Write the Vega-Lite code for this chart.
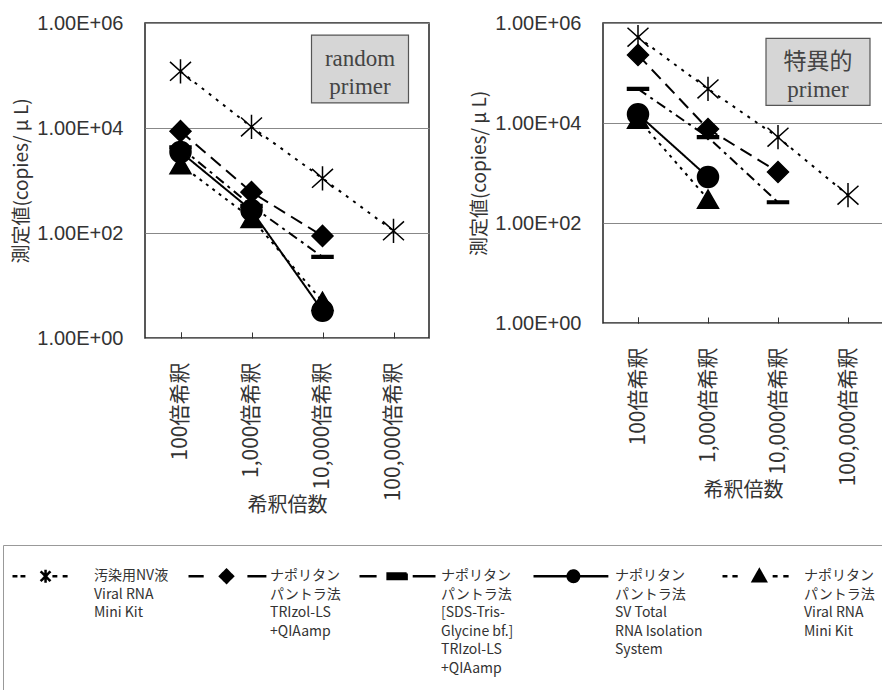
{
  "$schema": "https://vega.github.io/schema/vega-lite/v6.json",
  "padding": {"left": 2, "top": 12, "right": 0, "bottom": 0},
  "background": "white",
  "data": {
    "values": [
      {"primer": "random", "dilution": "100倍希釈", "series": "汚染用NV液|Viral  RNA| Mini Kit", "value": 120000},
      {"primer": "random", "dilution": "1,000倍希釈", "series": "汚染用NV液|Viral  RNA| Mini Kit", "value": 10500},
      {"primer": "random", "dilution": "10,000倍希釈", "series": "汚染用NV液|Viral  RNA| Mini Kit", "value": 1100},
      {"primer": "random", "dilution": "100,000倍希釈", "series": "汚染用NV液|Viral  RNA| Mini Kit", "value": 110},
      {"primer": "random", "dilution": "100倍希釈", "series": "ナポリタン|パントラ法|TRIzol-LS|+QIAamp", "value": 8700},
      {"primer": "random", "dilution": "1,000倍希釈", "series": "ナポリタン|パントラ法|TRIzol-LS|+QIAamp", "value": 600},
      {"primer": "random", "dilution": "10,000倍希釈", "series": "ナポリタン|パントラ法|TRIzol-LS|+QIAamp", "value": 88},
      {"primer": "random", "dilution": "100倍希釈", "series": "ナポリタン|パントラ法|[SDS-Tris-|Glycine bf.]|TRIzol-LS|+QIAamp", "value": 4300},
      {"primer": "random", "dilution": "1,000倍希釈", "series": "ナポリタン|パントラ法|[SDS-Tris-|Glycine bf.]|TRIzol-LS|+QIAamp", "value": 330},
      {"primer": "random", "dilution": "10,000倍希釈", "series": "ナポリタン|パントラ法|[SDS-Tris-|Glycine bf.]|TRIzol-LS|+QIAamp", "value": 35},
      {"primer": "random", "dilution": "100倍希釈", "series": "ナポリタン|パントラ法|SV Total|RNA Isolation|System", "value": 3500},
      {"primer": "random", "dilution": "1,000倍希釈", "series": "ナポリタン|パントラ法|SV Total|RNA Isolation|System", "value": 270},
      {"primer": "random", "dilution": "10,000倍希釈", "series": "ナポリタン|パントラ法|SV Total|RNA Isolation|System", "value": 3.3},
      {"primer": "random", "dilution": "100倍希釈", "series": "ナポリタン|パントラ法|Viral RNA|Mini Kit", "value": 2000},
      {"primer": "random", "dilution": "1,000倍希釈", "series": "ナポリタン|パントラ法|Viral RNA|Mini Kit", "value": 190},
      {"primer": "random", "dilution": "10,000倍希釈", "series": "ナポリタン|パントラ法|Viral RNA|Mini Kit", "value": 5},
      {"primer": "specific", "dilution": "100倍希釈", "series": "汚染用NV液|Viral  RNA| Mini Kit", "value": 520000},
      {"primer": "specific", "dilution": "1,000倍希釈", "series": "汚染用NV液|Viral  RNA| Mini Kit", "value": 48000},
      {"primer": "specific", "dilution": "10,000倍希釈", "series": "汚染用NV液|Viral  RNA| Mini Kit", "value": 5200},
      {"primer": "specific", "dilution": "100,000倍希釈", "series": "汚染用NV液|Viral  RNA| Mini Kit", "value": 360},
      {"primer": "specific", "dilution": "100倍希釈", "series": "ナポリタン|パントラ法|TRIzol-LS|+QIAamp", "value": 230000},
      {"primer": "specific", "dilution": "1,000倍希釈", "series": "ナポリタン|パントラ法|TRIzol-LS|+QIAamp", "value": 7600},
      {"primer": "specific", "dilution": "10,000倍希釈", "series": "ナポリタン|パントラ法|TRIzol-LS|+QIAamp", "value": 1050},
      {"primer": "specific", "dilution": "100倍希釈", "series": "ナポリタン|パントラ法|[SDS-Tris-|Glycine bf.]|TRIzol-LS|+QIAamp", "value": 48000},
      {"primer": "specific", "dilution": "1,000倍希釈", "series": "ナポリタン|パントラ法|[SDS-Tris-|Glycine bf.]|TRIzol-LS|+QIAamp", "value": 5200},
      {"primer": "specific", "dilution": "10,000倍希釈", "series": "ナポリタン|パントラ法|[SDS-Tris-|Glycine bf.]|TRIzol-LS|+QIAamp", "value": 260},
      {"primer": "specific", "dilution": "100倍希釈", "series": "ナポリタン|パントラ法|SV Total|RNA Isolation|System", "value": 15000},
      {"primer": "specific", "dilution": "1,000倍希釈", "series": "ナポリタン|パントラ法|SV Total|RNA Isolation|System", "value": 830},
      {"primer": "specific", "dilution": "100倍希釈", "series": "ナポリタン|パントラ法|Viral RNA|Mini Kit", "value": 12000},
      {"primer": "specific", "dilution": "1,000倍希釈", "series": "ナポリタン|パントラ法|Viral RNA|Mini Kit", "value": 300}
    ]
  },
  "spacing": 40,
  "resolve": {"scale": {"shape": "shared", "strokeDash": "shared", "color": "shared"}},
  "hconcat": [
    {
      "width": 284,
      "height": 315,
      "layer": [
        {
          "transform": [{"filter": "datum.primer === 'random'"}],
          "mark": {"type": "line", "color": "black", "strokeWidth": 2},
          "encoding": {
            "x": {"field": "dilution", "type": "nominal", "sort": ["100倍希釈", "1,000倍希釈", "10,000倍希釈", "100,000倍希釈"], "scale": {"paddingInner": 0, "paddingOuter": 0}, "title": "希釈倍数"},
            "y": {"field": "value", "type": "quantitative", "scale": {"type": "log", "domain": [1, 1000000]}, "axis": {"values": [1, 100, 10000, 1000000], "labelExpr": "'1.00E+0' + round(log(datum.value)/LN10)"}, "title": "測定値(copies/ μ L)"},
            "strokeDash": {"field": "series", "type": "nominal", "scale": {"domain": ["ナポリタン|パントラ法|Viral RNA|Mini Kit", "ナポリタン|パントラ法|SV Total|RNA Isolation|System", "ナポリタン|パントラ法|[SDS-Tris-|Glycine bf.]|TRIzol-LS|+QIAamp", "ナポリタン|パントラ法|TRIzol-LS|+QIAamp", "汚染用NV液|Viral  RNA| Mini Kit"], "range": [[3, 5], [1, 0], [10, 5, 3, 5], [13, 7], [3, 6]]}, "legend": null}
          }
        },
        {
          "transform": [{"filter": "datum.primer === 'random'"}],
          "mark": {"type": "point", "filled": true, "stroke": "black", "strokeWidth": 1.5, "opacity": 1, "size": 441},
          "encoding": {
            "x": {"field": "dilution", "type": "nominal", "sort": ["100倍希釈", "1,000倍希釈", "10,000倍希釈", "100,000倍希釈"]},
            "y": {"field": "value", "type": "quantitative"},
            "shape": {"field": "series", "type": "nominal", "scale": {"domain": ["ナポリタン|パントラ法|Viral RNA|Mini Kit", "ナポリタン|パントラ法|SV Total|RNA Isolation|System", "ナポリタン|パントラ法|[SDS-Tris-|Glycine bf.]|TRIzol-LS|+QIAamp", "ナポリタン|パントラ法|TRIzol-LS|+QIAamp", "汚染用NV液|Viral  RNA| Mini Kit"], "range": ["triangle-up", "circle", "M-1,-0.13L1,-0.13L1,0.13L-1,0.13Z", "diamond", "M-1,-0.9L1,0.9M-1,0.9L1,-0.9M0,-1.15L0,1.15"]}, "legend": null},
            "color": {
              "field": "series", "type": "nominal",
              "scale": {"domain": ["汚染用NV液|Viral  RNA| Mini Kit", "ナポリタン|パントラ法|TRIzol-LS|+QIAamp", "ナポリタン|パントラ法|[SDS-Tris-|Glycine bf.]|TRIzol-LS|+QIAamp", "ナポリタン|パントラ法|SV Total|RNA Isolation|System", "ナポリタン|パントラ法|Viral RNA|Mini Kit"], "range": ["black", "black", "black", "black", "black"]},
              "legend": {
                "orient": "none",
                "legendX": -142,
                "legendY": 522,
                "direction": "horizontal",
                "columns": 5,
                "title": null,
                "symbolSize": 5776,
                "labelOffset": 4,
                "columnPadding": 14,
                "rowPadding": 0,
                "padding": 8,
                "strokeColor": "#999",
                "labelFont": "Noto Sans CJK JP",
                "labelFontSize": 14,
                "labelColor": "#333",
                "labelBaseline": "top",
                "labelLimit": 300,
                "labelExpr": "split(datum.label, '|')",
                "encoding": {
                  "symbols": {
                    "shape": {"value": {"expr": "['M0,-0.6M0,2.75M-1,0L-0.87,0M-0.79,0L-0.66,0M-0.26,-0.13L0,0.13M-0.26,0.13L0,-0.13M-0.13,-0.17L-0.13,0.17M0.05,0L0.18,0M0.32,0L0.45,0', 'M0,-0.6M0,2.75M-1,0L-0.6,0M0,-0.17L0.17,0L0,0.17L-0.17,0ZM0.55,0L1.05,0', 'M0,-0.6M0,2.75M-1,0L-0.55,0M-0.26,-0.07L0.24,-0.07L0.24,0.07L-0.26,0.07ZM0.4,0L1,0', 'M0,-0.6M0,2.75M-1,0L0.97,0M-0.1,0A0.15,0.15 0 1,0 0.2,0A0.15,0.15 0 1,0 -0.1,0Z', 'M0,-0.6M0,2.75M-1,0L-0.87,0M-0.74,0L-0.6,0M-0.2,0.13L-0.03,-0.17L0.14,0.13ZM0.32,0L0.45,0M0.6,0L0.74,0'][datum.index]"}},
                    "size": {"value": 5776},
                    "y": {"value": 23},
                    "fill": {"value": "black"},
                    "stroke": {"value": "black"},
                    "strokeWidth": {"value": 2.5},
                    "strokeDash": {"value": [1, 0]},
                    "opacity": {"value": 1}
                  },
                  "labels": {"y": {"value": 23}, "dy": {"value": -7}, "lineHeight": {"value": 18.5}}
                }
              }
            }
          }
        },
        {
          "data": {"values": [{"label": "random|primer"}]},
          "mark": {"type": "point", "shape": "M-1,-0.7L1,-0.7L1,0.7L-1,0.7Z", "size": 9409, "filled": true, "fill": "#d6d6d6", "stroke": "#555", "strokeWidth": 1.2, "opacity": 1, "xOffset": -33.5},
          "encoding": {"x": {"datum": "100,000倍希釈"}, "y": {"datum": 133000}}
        },
        {
          "data": {"values": [{"label": "random|primer"}]},
          "mark": {"type": "text", "lineBreak": "|", "font": "Liberation Serif, Noto Sans CJK JP", "fontSize": 23, "lineHeight": 28, "color": "#444", "xOffset": -33.5, "dy": -10, "baseline": "middle", "align": "center"},
          "encoding": {"x": {"datum": "100,000倍希釈"}, "y": {"datum": 133000}, "text": {"field": "label"}}
        }
      ]
    },
    {
      "width": 280,
      "height": 300,
      "layer": [
        {
          "transform": [{"filter": "datum.primer === 'specific'"}],
          "mark": {"type": "line", "color": "black", "strokeWidth": 2},
          "encoding": {
            "x": {"field": "dilution", "type": "nominal", "sort": ["100倍希釈", "1,000倍希釈", "10,000倍希釈", "100,000倍希釈"], "scale": {"paddingInner": 0, "paddingOuter": 0}, "title": "希釈倍数"},
            "y": {"field": "value", "type": "quantitative", "scale": {"type": "log", "domain": [1, 1000000]}, "axis": {"values": [1, 100, 10000, 1000000], "labelExpr": "'1.00E+0' + round(log(datum.value)/LN10)"}, "title": "測定値(copies/ μ L)"},
            "strokeDash": {"field": "series", "type": "nominal", "scale": {"domain": ["ナポリタン|パントラ法|Viral RNA|Mini Kit", "ナポリタン|パントラ法|SV Total|RNA Isolation|System", "ナポリタン|パントラ法|[SDS-Tris-|Glycine bf.]|TRIzol-LS|+QIAamp", "ナポリタン|パントラ法|TRIzol-LS|+QIAamp", "汚染用NV液|Viral  RNA| Mini Kit"], "range": [[3, 5], [1, 0], [10, 5, 3, 5], [13, 7], [3, 6]]}, "legend": null}
          }
        },
        {
          "transform": [{"filter": "datum.primer === 'specific'"}],
          "mark": {"type": "point", "filled": true, "stroke": "black", "strokeWidth": 1.5, "opacity": 1, "size": 441},
          "encoding": {
            "x": {"field": "dilution", "type": "nominal", "sort": ["100倍希釈", "1,000倍希釈", "10,000倍希釈", "100,000倍希釈"]},
            "y": {"field": "value", "type": "quantitative"},
            "shape": {"field": "series", "type": "nominal", "scale": {"domain": ["ナポリタン|パントラ法|Viral RNA|Mini Kit", "ナポリタン|パントラ法|SV Total|RNA Isolation|System", "ナポリタン|パントラ法|[SDS-Tris-|Glycine bf.]|TRIzol-LS|+QIAamp", "ナポリタン|パントラ法|TRIzol-LS|+QIAamp", "汚染用NV液|Viral  RNA| Mini Kit"], "range": ["triangle-up", "circle", "M-1,-0.13L1,-0.13L1,0.13L-1,0.13Z", "diamond", "M-1,-0.9L1,0.9M-1,0.9L1,-0.9M0,-1.15L0,1.15"]}, "legend": null},
            "color": {"field": "series", "type": "nominal", "scale": {"domain": ["汚染用NV液|Viral  RNA| Mini Kit", "ナポリタン|パントラ法|TRIzol-LS|+QIAamp", "ナポリタン|パントラ法|[SDS-Tris-|Glycine bf.]|TRIzol-LS|+QIAamp", "ナポリタン|パントラ法|SV Total|RNA Isolation|System", "ナポリタン|パントラ法|Viral RNA|Mini Kit"], "range": ["black", "black", "black", "black", "black"]}}
          }
        },
        {
          "data": {"values": [{"label": "特異的|primer"}]},
          "mark": {"type": "point", "shape": "M-1,-0.644L1,-0.644L1,0.644L-1,0.644Z", "size": 10816, "filled": true, "fill": "#d6d6d6", "stroke": "#555", "strokeWidth": 1.2, "opacity": 1, "xOffset": -30},
          "encoding": {"x": {"datum": "100,000倍希釈"}, "y": {"datum": 105000}}
        },
        {
          "data": {"values": [{"label": "特異的|primer"}]},
          "mark": {"type": "text", "lineBreak": "|", "font": "Liberation Serif, Noto Sans CJK JP", "fontSize": 23, "lineHeight": 28, "color": "#444", "xOffset": -30, "dy": -10, "baseline": "middle", "align": "center"},
          "encoding": {"x": {"datum": "100,000倍希釈"}, "y": {"datum": 105000}, "text": {"field": "label"}}
        }
      ]
    }
  ],
  "config": {
    "font": "Noto Sans CJK JP",
    "view": {"stroke": "#222", "strokeWidth": 1.5},
    "axis": {"labelColor": "#333", "titleColor": "#333", "titleFontWeight": "normal"},
    "axisX": {"labelFont": "Noto Sans CJK JP", "labelFontSize": 21, "titleFontSize": 20, "labelAngle": 270, "tickBand": "extent", "tickSize": -6, "tickColor": "#333", "domain": false, "grid": false, "labelPadding": 30, "titlePadding": -5},
    "axisY": {"labelFont": "Liberation Sans", "labelFontSize": 20, "titleFontSize": 19, "ticks": false, "domain": false, "grid": true, "gridColor": "#888", "gridWidth": 1, "labelPadding": 22, "titlePadding": 5}
  }
}
